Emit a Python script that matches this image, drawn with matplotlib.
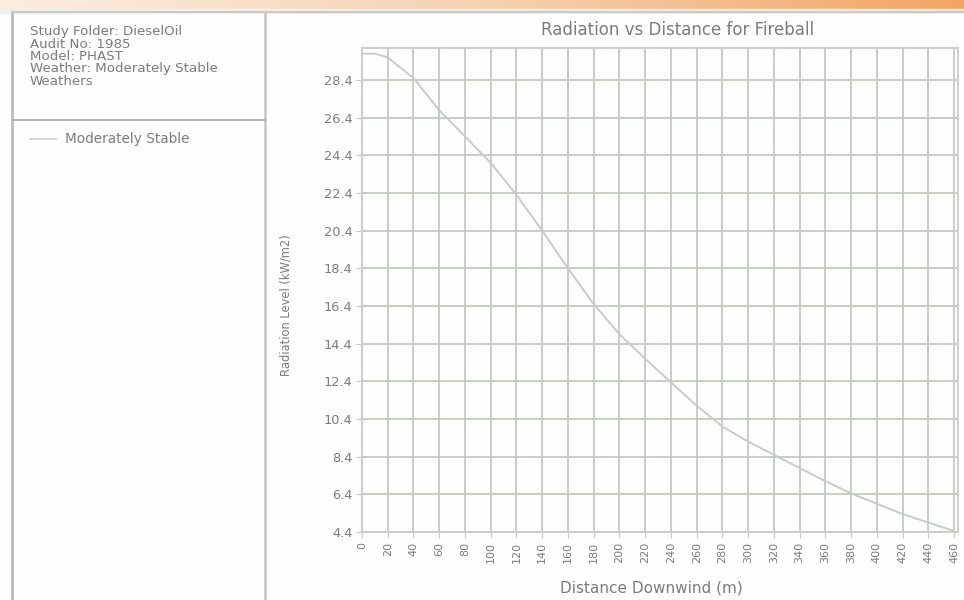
import numpy as np
import matplotlib
matplotlib.use("Agg")
import matplotlib.pyplot as plt
from matplotlib.patches import Rectangle
from matplotlib.lines import Line2D
from matplotlib.colors import LinearSegmentedColormap

# ---- data ----
distance = [0, 10, 20, 40, 60, 80, 100, 120, 140, 160, 180, 200, 220, 240,
            260, 280, 300, 320, 340, 360, 380, 400, 420, 440, 460]
radiation = [29.8, 29.8, 29.6, 28.5, 26.8, 25.4, 24.0, 22.3, 20.4, 18.4, 16.5,
             14.9, 13.6, 12.35, 11.1, 10.0, 9.2, 8.5, 7.8, 7.1, 6.45, 5.9,
             5.35, 4.9, 4.45]
x_ticks = list(range(0, 461, 20))
y_ticks = [4.4, 6.4, 8.4, 10.4, 12.4, 14.4, 16.4, 18.4, 20.4, 22.4, 24.4, 26.4, 28.4]
info_lines = ["Study Folder: DieselOil", "Audit No: 1985", "Model: PHAST",
              "Weather: Moderately Stable", "Weathers"]
series_name = "Moderately Stable"
title = "Radiation vs Distance for Fireball"
xlabel = "Distance Downwind (m)"
ylabel = "Radiation Level (kW/m2)"

W, H = 964, 600
plt.rcParams['font.family'] = ['DejaVu Sans']
TXT = '#7a7e7a'
fig = plt.figure(figsize=(W / 100, H / 100), dpi=100)
fig.patch.set_facecolor('#fdfefd')

def px(x0, y0, x1, y1):
    return [x0 / W, 1 - y1 / H, (x1 - x0) / W, (y1 - y0) / H]

# top orange gradient band
bg = fig.add_axes([0, 0, 1, 1], zorder=-5)
bg.set_xlim(0, W); bg.set_ylim(H, 0); bg.axis('off')
grad = np.linspace(0, 1, 256).reshape(1, -1)
cmap = LinearSegmentedColormap.from_list('o', ['#fbeee0', '#f6d2b0', '#f3a565'])
bg.imshow(grad, extent=[0, W, 9, 0], aspect='auto', cmap=cmap)
bg.add_patch(Rectangle((0, 9), W, 4, color='#eef0ee'))
# panel borders
bg.add_line(Line2D([12, 12], [12, 600], color='#b8bcbc', lw=2))
bg.add_line(Line2D([265, 265], [12, 600], color='#c8cac8', lw=2))
bg.add_line(Line2D([12, 964], [12, 12], color='#c8cac8', lw=1.5))
bg.add_line(Line2D([12, 265], [120, 120], color='#b0b4b0', lw=1.5))
# info text
for i, t in enumerate(info_lines):
    bg.text(30, 32 + i * 12.3, t, fontsize=9.6, color=TXT, va='center', ha='left')
bg.add_line(Line2D([30, 56], [139, 139], color='#c8d0c8', lw=1.2))
bg.text(65, 139, series_name, fontsize=9.8, color=TXT, va='center', ha='left')

# main axes
ax = fig.add_axes(px(362, 48, 958, 532))
ax.plot(distance, radiation, color='#c6cdc6', lw=1.4, zorder=3)
ax.set_xlim(0, 463)
ax.set_ylim(4.4, 30.1)
ax.set_xticks(x_ticks)
ax.set_xticklabels([str(v) for v in x_ticks], rotation=90, fontsize=8, color=TXT)
ax.set_yticks(y_ticks)
ax.set_yticklabels([f"{v:.1f}" for v in y_ticks], fontsize=9.3, color=TXT)
ax.grid(True, color='#c2cac2', lw=1.3)
ax.set_axisbelow(True)
ax.tick_params(length=4, color='#c2cac2', pad=3)
for s in ax.spines.values():
    s.set_color('#c8ccc8'); s.set_linewidth(1.3)
ax.set_facecolor('#fdfefd')

fig.text(678 / W, 1 - 30 / H, title, fontsize=12, color=TXT, ha='center', va='center')
fig.text(651 / W, 1 - 588 / H, xlabel, fontsize=11, color=TXT, ha='center', va='center')
fig.text(286 / W, 1 - 305 / H, ylabel, fontsize=8.3, color=TXT, ha='center', va='center', rotation=90)

fig.savefig('out.png', dpi=100, facecolor=fig.get_facecolor())
